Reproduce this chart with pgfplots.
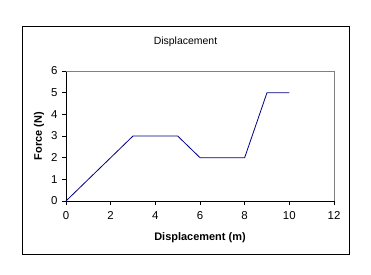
\documentclass[border=0pt]{standalone}
\usepackage{pgfplots}
\pgfplotsset{compat=1.18}
\usepackage{fontspec}
\setmainfont{Liberation Sans}
\definecolor{navyline}{RGB}{0,0,128}
\begin{document}
\begin{tikzpicture}[x=1bp,y=1bp]
\path (0,0) rectangle (371,275);
\draw[line width=1bp] (22,20) rectangle (349,248);
\node[font=\fontsize{10.5}{12}\selectfont] at (185.5,233) {Displacement};
\begin{axis}[
  at={(66bp,74bp)}, anchor=origin,
  scale only axis, width=268bp, height=130bp,
  xmin=0, xmax=12, ymin=0, ymax=6,
  xtick={0,2,...,12}, ytick={0,1,...,6},
  axis lines*=left, axis line style={-, black, line width=0.8bp},
  tick align=outside, major tick length=4bp,
  tick style={black, line width=0.8bp},
  ticklabel style={font=\fontsize{11.5}{13}\selectfont},
  /pgf/number format/assume math mode=true,
  xticklabel style={yshift=-3bp},
  yticklabel style={xshift=-1bp},
  xlabel={\textbf{Displacement (m)}},
  ylabel={\textbf{Force (N)}},
  label style={font=\fontsize{11}{13}\selectfont},
  xlabel style={at={(axis description cs:0.5,0)}, anchor=center, yshift=-37bp},
  ylabel style={at={(axis description cs:0,0.5)}, anchor=center, rotate=0, yshift=27bp},
  clip=false,
]
\draw[gray, line width=0.8bp] (rel axis cs:0,1) -- (rel axis cs:1,1) -- (rel axis cs:1,0);
\addplot[navyline, line width=0.8bp, mark=none] coordinates {
(0,0) (3,3) (5,3) (6,2) (8,2) (9,5) (10,5)
};
\end{axis}
\end{tikzpicture}
\end{document}
